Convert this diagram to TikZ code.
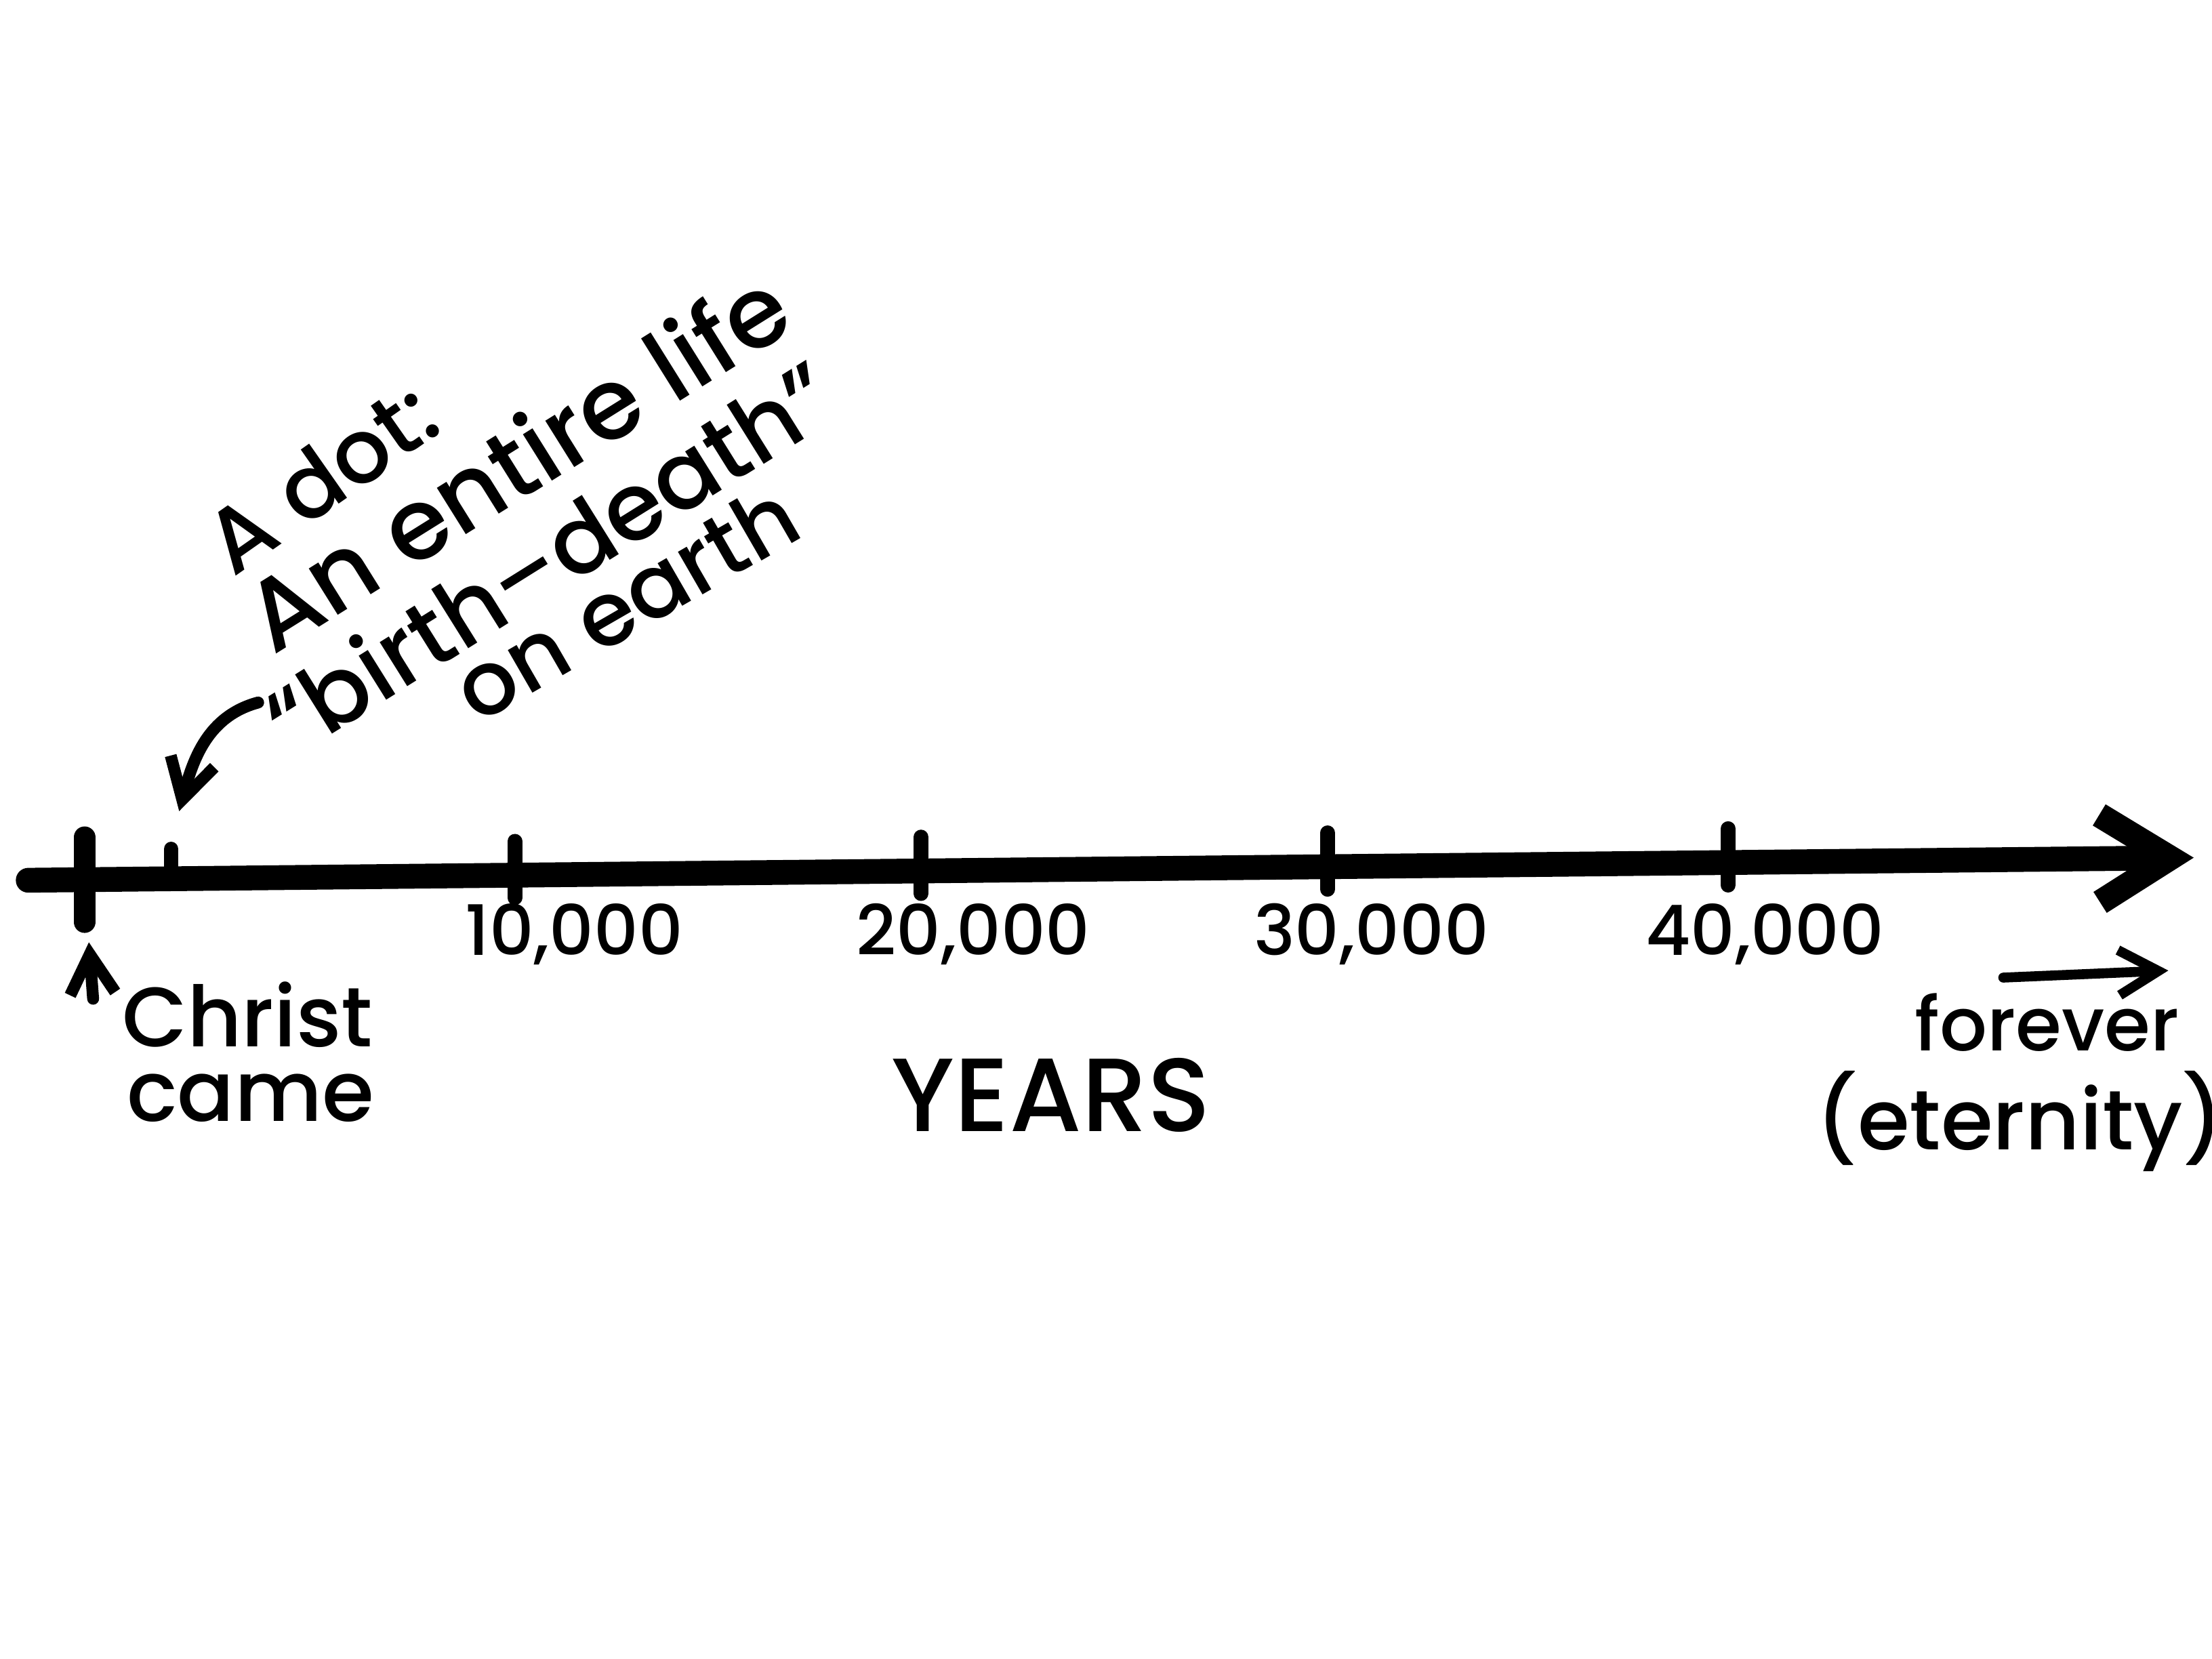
\documentclass[tikz,border=0pt]{standalone}
\usepackage{fontspec}
\setmainfont{Poppins}[UprightFont={* Medium},BoldFont={* Bold}]
\usetikzlibrary{arrows.meta, calc}

\begin{document}
\begin{tikzpicture}[
    hand/.style={inner sep=0pt,text=black},
    note/.style={hand,anchor=base west,font=\fontsize{18}{21}\selectfont},
    yearlab/.style={hand,anchor=base,font=\fontsize{14}{16}\selectfont},
    axis/.style={line width=5pt,line cap=round,-{Straight Barb[length=5mm,width=6.2mm]}},
    tickmark/.style={line width=3pt,line cap=round},
    ptr/.style={line width=2.4pt,line cap=round,-{Straight Barb[length=2.8mm,width=3.2mm]}}]
    \useasboundingbox (0,0) rectangle (15.68,11.76);
    \fill[white] (0,0) rectangle (15.68,11.76);
    % time line
    \coordinate (axL) at (0.20,5.52);
    \coordinate (axR) at (15.55,5.68);
    \draw[axis] (axL) -- (axR);
    \coordinate (tc) at ($(axL)!0.026!(axR)$);
    \coordinate (td) at ($(axL)!0.066!(axR)$);
    \draw[tickmark,line width=4.4pt] ([yshift=0.30cm]tc) -- ([yshift=-0.30cm]tc);
    \draw[tickmark] (td) -- ([yshift=0.21cm]td);
    \coordinate (labline) at (0,4.99);
    \foreach \f/\dx/\lab [count=\n] in {0.2247/0.42/{10,000},0.4123/0.37/{20,000},0.6/0.31/{30,000},0.785/0.26/{40,000}}{
      \coordinate (t\n) at ($(axL)!\f!(axR)$);
      \draw[tickmark] ([yshift=0.24cm]t\n) -- ([yshift=-0.16cm]t\n);
      \node[yearlab,xshift=\dx cm] (yr\n) at (t\n |- labline) {\lab};
    }
    % labels below
    \node[hand,anchor=base east,font=\fontsize{17}{20}\selectfont] (christ) at (2.65,4.34) {Christ};
    \node[hand,anchor=base east,font=\fontsize{17}{20}\selectfont] (came) at (2.66,3.81) {came};
    \coordinate (cTail) at (0.66,4.68);
    \coordinate (cHead) at (0.63,5.08);
    \draw[ptr] (cTail) -- (cHead);
    \node[hand,anchor=base,font=\fontsize{21}{24}\selectfont] (years) at (7.45,3.74) {YEARS};
    \node[hand,anchor=base,font=\fontsize{15}{18}\selectfont] (forever) at (14.51,4.31) {forever};
    \node[hand,anchor=base,font=\fontsize{17}{20}\selectfont] (eternity) at (14.32,3.61) {(eternity)};
    \coordinate (fTail) at (14.20,4.83);
    \coordinate (fHead) at (15.37,4.88);
    \draw[ptr,line width=2pt] (fTail) -- (fHead);
    % the dot
    \node[note,rotate=35] (dotA) at (1.65,7.66) {A dot:};
    \node[note,rotate=32,font=\fontsize{20}{23}\selectfont] (dotB) at (1.93,7.11) {An entire life};
    \node[note,rotate=32,font=\fontsize{19}{22}\selectfont] (dotC) at (2.07,6.38) {“birth–death”};
    \node[note,rotate=30] (dotD) at (3.38,6.62) {on earth};
    \coordinate (dTail) at (1.83,6.78);
    \coordinate (dHead) at (1.27,6.01);
    \draw[ptr] (dTail) to[out=195,in=75] (dHead);
\end{tikzpicture}
\end{document}
